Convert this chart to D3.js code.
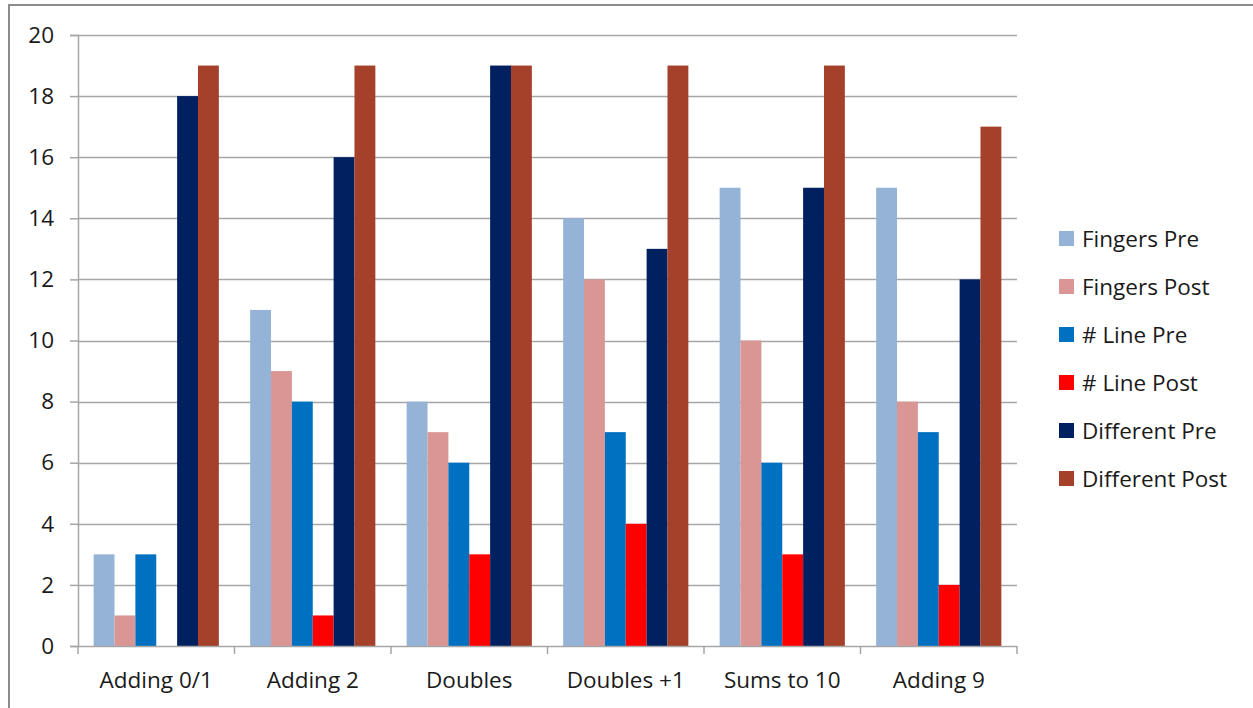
<!DOCTYPE html>
<html>
<head>
<meta charset="utf-8">
<script src="https://cdn.jsdelivr.net/npm/d3@7"></script>
<style>
  html, body { margin: 0; padding: 0; background: #fff; }
  svg { display: block; }
  text { font-family: "Open Sans", "Noto Sans", sans-serif; fill: #1a1a1a; }
</style>
</head>
<body>
<svg id="chart" width="1253" height="708"></svg>
<script>
// Strategy usage counts per addition fact family
const categories = ["Adding 0/1", "Adding 2", "Doubles", "Doubles +1", "Sums to 10", "Adding 9"];
const seriesNames = ["Fingers Pre", "Fingers Post", "# Line Pre", "# Line Post", "Different Pre", "Different Post"];
const fingersPre    = [3, 11, 8, 14, 15, 15];
const fingersPost   = [1, 9, 7, 12, 10, 8];
const linePre       = [3, 8, 6, 7, 6, 7];
const linePost      = [0, 1, 3, 4, 3, 2];
const differentPre  = [18, 16, 19, 13, 15, 12];
const differentPost = [19, 19, 19, 19, 19, 17];
const seriesColors  = ["#95b3d7", "#d99694", "#0070c0", "#ff0000", "#002060", "#a5402a"];
const yTicks = [0, 2, 4, 6, 8, 10, 12, 14, 16, 18, 20];

const seriesValues = [fingersPre, fingersPost, linePre, linePost, differentPre, differentPost];
const rows = categories.map((c, i) => {
  const r = { category: c };
  seriesNames.forEach((s, j) => { r[s] = seriesValues[j][i]; });
  return r;
});

const FONT_SIZE = 22.5;
const svg = d3.select("#chart");

// Outer chart frame (runs off the right and bottom edges)
svg.append("rect")
  .attr("x", 9).attr("y", 5)
  .attr("width", 1300).attr("height", 800)
  .attr("fill", "none").attr("stroke", "#8c8c8c").attr("stroke-width", 2);

const plot = { left: 78, right: 1017, top: 35, bottom: 646 };

const x0 = d3.scaleBand().domain(categories).range([plot.left, plot.right]).paddingInner(0).paddingOuter(0);
const x1 = d3.scaleBand().domain(seriesNames).range([0, x0.bandwidth() * 0.8]).padding(0);
const y = d3.scaleLinear().domain([0, 20]).range([plot.bottom, plot.top]);

// Horizontal gridlines
svg.append("g").selectAll("line").data(yTicks.filter(t => t > 0)).join("line")
  .attr("x1", plot.left).attr("x2", plot.right)
  .attr("y1", d => Math.round(y(d)) + 0.5).attr("y2", d => Math.round(y(d)) + 0.5)
  .attr("stroke", "#a6a6a6").attr("stroke-width", 1.5);

// Bars
const groups = svg.append("g").selectAll("g").data(rows).join("g")
  .attr("transform", d => `translate(${x0(d.category) + x0.bandwidth() * 0.1},0)`);
groups.selectAll("rect")
  .data(d => seriesNames.map((s, j) => ({ key: s, value: d[s], color: seriesColors[j] })))
  .join("rect")
  .attr("x", d => x1(d.key))
  .attr("width", x1.bandwidth())
  .attr("y", d => y(d.value))
  .attr("height", d => y(0) - y(d.value))
  .attr("fill", d => d.color);

// Y axis
const yAxis = d3.axisLeft(y).tickValues(yTicks).tickSize(8).tickPadding(16).tickFormat(d3.format("d"));
const gy = svg.append("g").attr("transform", `translate(${plot.left},0)`).call(yAxis);
gy.select(".domain").attr("stroke", "#a6a6a6").attr("stroke-width", 1.5);
gy.selectAll(".tick line").attr("stroke", "#a6a6a6").attr("stroke-width", 1.5);
gy.selectAll(".tick text").attr("font-size", FONT_SIZE).attr("fill", "#1a1a1a")
  .style("font-family", "'Open Sans', sans-serif");

// X axis with boundary ticks between categories
const gx = svg.append("g").attr("transform", `translate(0,${plot.bottom})`);
gx.append("line").attr("x1", plot.left).attr("x2", plot.right).attr("y1", 0.5).attr("y2", 0.5)
  .attr("stroke", "#a6a6a6").attr("stroke-width", 1.5);
const boundaries = categories.map(c => x0(c)).concat([plot.right]);
gx.selectAll("line.b").data(boundaries).join("line").attr("class", "b")
  .attr("x1", d => d).attr("x2", d => d).attr("y1", 0).attr("y2", 8)
  .attr("stroke", "#a6a6a6").attr("stroke-width", 1.5);
gx.selectAll("text").data(categories).join("text")
  .attr("x", d => x0(d) + x0.bandwidth() / 2)
  .attr("y", 42)
  .attr("text-anchor", "middle")
  .attr("font-size", FONT_SIZE)
  .text(d => d);

// Legend
const legend = svg.append("g").attr("transform", "translate(1059,231)");
const items = legend.selectAll("g").data(seriesNames).join("g")
  .attr("transform", (d, i) => `translate(0,${i * 48})`);
items.append("rect").attr("width", 15).attr("height", 15)
  .attr("fill", (d, i) => seriesColors[i]);
items.append("text").attr("x", 23).attr("y", 16)
  .attr("font-size", FONT_SIZE).text(d => d);
</script>
</body>
</html>
